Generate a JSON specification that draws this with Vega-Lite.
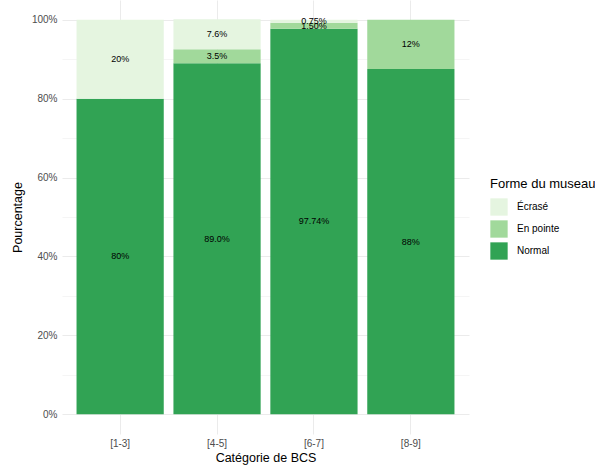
{
  "$schema": "https://vega.github.io/schema/vega-lite/v6.json",
  "width": 407,
  "height": 434,
  "autosize": "none",
  "padding": {"left": 62, "top": 0, "right": 126, "bottom": 31},
  "background": "white",
  "config": {
    "font": "Liberation Sans",
    "view": {"stroke": null},
    "axis": {
      "labelColor": "#4d4d4d",
      "labelFontSize": 10,
      "titleFontSize": 12.5,
      "titleFontWeight": "normal",
      "titleColor": "#000000",
      "gridColor": "#ebebeb",
      "ticks": false,
      "domain": false
    }
  },
  "data": {
    "values": [
      {"bcs": "[1-3]", "forme": "Normal", "pct": 80, "label": "80%"},
      {"bcs": "[1-3]", "forme": "Écrasé", "pct": 20, "label": "20%"},
      {"bcs": "[4-5]", "forme": "Normal", "pct": 89.0, "label": "89.0%"},
      {"bcs": "[4-5]", "forme": "En pointe", "pct": 3.5, "label": "3.5%"},
      {"bcs": "[4-5]", "forme": "Écrasé", "pct": 7.6, "label": "7.6%"},
      {"bcs": "[6-7]", "forme": "Normal", "pct": 97.74, "label": "97.74%"},
      {"bcs": "[6-7]", "forme": "En pointe", "pct": 1.50, "label": "1.50%"},
      {"bcs": "[6-7]", "forme": "Écrasé", "pct": 0.75, "label": "0.75%"},
      {"bcs": "[8-9]", "forme": "Normal", "pct": 87.5, "label": "88%"},
      {"bcs": "[8-9]", "forme": "En pointe", "pct": 12.5, "label": "12%"}
    ]
  },
  "transform": [
    {"calculate": "indexof(['Normal','En pointe','Écrasé'], datum.forme)", "as": "ord"},
    {"stack": "pct", "groupby": ["bcs"], "sort": [{"field": "ord", "order": "ascending"}], "as": ["y0", "y1"]},
    {"calculate": "(datum.y0 + datum.y1) / 2", "as": "ymid"}
  ],
  "layer": [
    {
      "mark": {"type": "bar"},
      "encoding": {
        "x": {
          "field": "bcs",
          "type": "nominal",
          "scale": {"paddingInner": 0.1, "paddingOuter": 0.15},
          "axis": {
            "title": "Catégorie de BCS",
            "labelAngle": 0,
            "grid": true,
            "bandPosition": 0.5,
            "labelPadding": 4,
            "titlePadding": 3
          }
        },
        "y": {
          "field": "y0",
          "type": "quantitative",
          "scale": {"domain": [-5, 105], "nice": false, "zero": false},
          "axis": {
            "title": "Pourcentage",
            "values": [0, 10, 20, 30, 40, 50, 60, 70, 80, 90, 100],
            "labelExpr": "datum.value % 20 == 0 ? datum.value + '%' : ''",
            "gridWidth": {"expr": "datum.value % 20 == 0 ? 1 : 0.5"},
            "labelPadding": 5,
            "titlePadding": 7
          }
        },
        "y2": {"field": "y1"},
        "color": {
          "field": "forme",
          "type": "nominal",
          "scale": {
            "domain": ["Écrasé", "En pointe", "Normal"],
            "range": ["#e5f5e0", "#a1d99b", "#31a354"]
          },
          "legend": {
            "title": "Forme du museau",
            "orient": "none",
            "legendX": 428,
            "legendY": 178,
            "titleFontSize": 13,
            "titleFontWeight": "normal",
            "titleColor": "#000000",
            "titlePadding": 7,
            "labelFontSize": 10,
            "labelColor": "#000000",
            "symbolType": "square",
            "symbolSize": 300,
            "symbolStrokeWidth": 0,
            "symbolOpacity": 1,
            "rowPadding": 4,
            "labelOffset": 9
          }
        }
      }
    },
    {
      "mark": {"type": "text", "fontSize": 9, "fontWeight": "normal", "color": "#000000"},
      "encoding": {
        "x": {"field": "bcs", "type": "nominal"},
        "y": {"field": "ymid", "type": "quantitative"},
        "text": {"field": "label"}
      }
    }
  ]
}
